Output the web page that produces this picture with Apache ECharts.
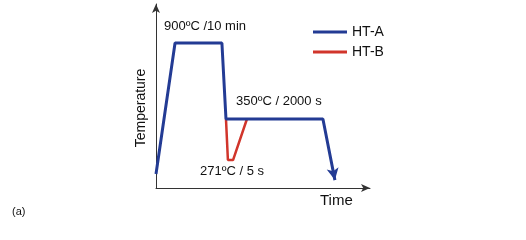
<!DOCTYPE html>
<html>
<head>
<meta charset="utf-8">
<script src="https://cdn.jsdelivr.net/npm/echarts@6/dist/echarts.min.js"></script>
<style>
html, body { margin: 0; padding: 0; background: #fff; }
#chart { width: 526px; height: 240px; }
</style>
</head>
<body>
<div id="chart"></div>
<script>
// schematic time / temperature path, axis units 0-100
var htA = [[0, 7.6], [8.9, 78.8], [30.8, 78.8], [32.7, 37.5], [78.0, 37.5], [83.6, 4.3]];
var htB = [[32.7, 37.5], [33.6, 15.2], [36.0, 15.2], [42.5, 37.5]];
var seriesNames = ['HT-A', 'HT-B'];

var chart = echarts.init(document.getElementById('chart'));

var blueData = htA.map(function (p, i) {
	if (i === htA.length - 1) {
		return { value: p, symbol: 'arrow', symbolSize: [9, 12], symbolRotate: 191 };
	}
	return { value: p, symbol: 'none' };
});

var font = 'Liberation Sans, Arial, sans-serif';

var option = {
	animation: false,
	backgroundColor: '#fff',
	grid: { left: 156, right: 156, top: 4, bottom: 52, containLabel: false },
	legend: {
		data: seriesNames.map(function (n) { return { name: n, icon: 'rect' }; }),
		orient: 'vertical',
		left: 308,
		top: 20,
		itemWidth: 34,
		itemHeight: 3,
		itemGap: 6,
		textStyle: { fontFamily: font, fontSize: 14, color: '#111' }
	},
	xAxis: {
		type: 'value', min: 0, max: 100,
		axisLine: { lineStyle: { color: '#333', width: 1 }, symbol: ['none', 'arrow'], symbolSize: [6, 9] },
		axisTick: { show: false }, axisLabel: { show: false }, splitLine: { show: false }
	},
	yAxis: {
		type: 'value', min: 0, max: 100,
		axisLine: { show: true, lineStyle: { color: '#333', width: 1 }, symbol: ['none', 'arrow'], symbolSize: [6, 9] },
		axisTick: { show: false }, axisLabel: { show: false }, splitLine: { show: false }
	},
	series: [
		{
			name: 'HT-A', type: 'line', data: blueData, z: 3,
			color: '#233b94',
			lineStyle: { width: 3, color: '#233b94' },
			itemStyle: { color: '#233b94' },
			showSymbol: true
		},
		{
			name: 'HT-B', type: 'line', data: htB, z: 2, symbol: 'none',
			color: '#d1352b',
			lineStyle: { width: 2.5, color: '#d1352b' },
			itemStyle: { color: '#d1352b' }
		}
	],
	graphic: [
		{ type: 'text', left: 164, top: 20, style: { text: '900ºC /10 min', font: '13px ' + font, fill: '#111' } },
		{ type: 'text', left: 236, top: 95, style: { text: '350ºC / 2000 s', font: '13px ' + font, fill: '#111' } },
		{ type: 'text', left: 200, top: 165, style: { text: '271ºC / 5 s', font: '13px ' + font, fill: '#111' } },
		{ type: 'text', left: 320, top: 193, style: { text: 'Time', font: '15px ' + font, fill: '#111' } },
		{ type: 'text', x: 141, y: 108, rotation: Math.PI / 2, style: { text: 'Temperature', font: '14px ' + font, fill: '#111', align: 'center', verticalAlign: 'middle' } },
		{ type: 'text', left: 12, top: 206, style: { text: '(a)', font: '11px ' + font, fill: '#111' } }
	]
};

chart.setOption(option);
</script>
</body>
</html>
